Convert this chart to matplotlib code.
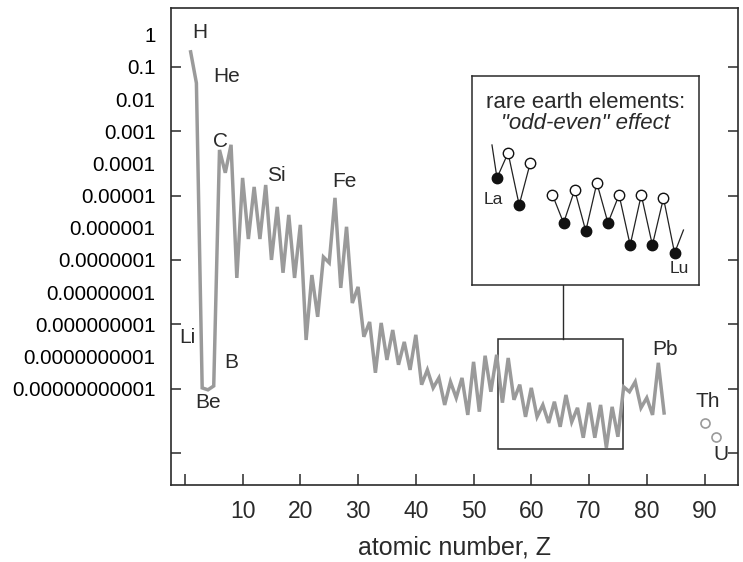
import numpy as np
import matplotlib
matplotlib.use("Agg")
import matplotlib.pyplot as plt
from matplotlib.patches import Rectangle

plt.rcParams['font.family'] = ['Liberation Sans', 'DejaVu Sans']

# log10 relative abundance, Z = 1 .. 83
Z = np.arange(1, 84)
log_abund = [
    -0.53, -1.50, -10.98, -11.04, -10.92, -3.58, -4.29, -3.42, -7.56, -4.45,
    -6.35, -4.73, -6.35, -4.67, -7.00, -5.35, -7.40, -5.60, -7.56, -5.91,
    -9.49, -7.47, -8.77, -6.91, -7.09, -5.07, -7.87, -5.97, -8.34, -7.84,
    -9.39, -8.93, -10.51, -8.96, -10.11, -9.18, -10.26, -9.55, -10.42, -9.33,
    -10.88, -10.42, -10.98, -10.67, -11.51, -10.79, -11.29, -10.67, -11.82, -10.17,
    -11.72, -9.98, -11.10, -9.95, -11.44, -10.05, -11.35, -10.88, -11.88, -10.98,
    -11.88, -11.51, -12.07, -11.41, -12.19, -11.20, -12.04, -11.60, -12.53, -11.44,
    -12.53, -11.51, -12.84, -11.57, -12.50, -10.95, -11.10, -10.79, -11.60, -11.29,
    -11.82, -10.20, -11.76,
]
actinide_Z = [90, 92]
actinide_log = [-12.07, -12.50]

# element labels: (text, Z position, log10 position)
elem_labels = [
    ("H", 2.6, 0.06), ("He", 7.3, -1.31), ("C", 6.1, -3.33), ("Si", 15.9, -4.39),
    ("Fe", 27.7, -4.57), ("Li", 0.35, -9.42), ("B", 8.1, -10.20), ("Be", 4.0, -11.44),
    ("Pb", 83.2, -9.80), ("Th", 90.6, -11.41), ("U", 92.9, -13.06),
]

ytick_exp = list(range(0, -12, -1))
ytick_text = ["1"] + ["0." + "0" * (-e - 1) + "1" for e in ytick_exp[1:]]
xtick_vals = list(range(0, 100, 10))
xtick_text = [""] + [str(v) for v in xtick_vals[1:]]

# inset sketch of the rare earth odd-even zigzag (0-100 height units)
ree_x = [-0.45, 0, 1, 2, 3, 4, 5, 6, 7, 8, 9, 10, 11, 12, 13, 14, 15, 16, 16.8]
ree_y = [67, 51.2, 63.2, 38.3, 58.4, np.nan, 43.1, 29.7, 45.5, 25.8, 48.8,
         29.7, 43.1, 19.1, 43.1, 19.1, 41.6, 15.3, 26.3]
ree_filled = [None, True, False, True, False, None, False, True, False, True,
              False, True, False, True, False, True, False, True, None]

line_gray = "#9a9a9a"
ink = "#2a2a2a"

fig = plt.figure(figsize=(7.43, 5.62), dpi=100)
ax = fig.add_axes([171 / 743, 1 - 485 / 562, 567 / 743, 477 / 562])

ax.plot(Z, 10.0 ** np.array(log_abund), color=line_gray, lw=2.5,
        solid_joinstyle="miter")
ax.plot(actinide_Z, 10.0 ** np.array(actinide_log), "o", ls="none",
        mfc="white", mec=line_gray, ms=6.5, mew=1.2)

ax.set_yscale("log")
ax.set_xlim(-2.4, 95.8)
ax.set_ylim(1e-14, 10 ** 0.834)

ax.yaxis.remove_overlapping_locs = False
ax.set_yticks([10.0 ** e for e in range(-1, -14, -2)])
ax.set_yticklabels([])
ax.set_yticks([10.0 ** e for e in ytick_exp], labels=ytick_text, minor=True)
ax.tick_params(axis="y", which="major", direction="in", length=7, width=1.1,
               right=True, color=ink)
ax.tick_params(axis="y", which="minor", length=0, pad=11, labelsize=14.8,
               labelcolor="black")

ax.set_xticks(xtick_vals, labels=xtick_text)
ax.tick_params(axis="x", direction="in", length=8, width=1.1, pad=11,
               labelsize=16.5, labelcolor=ink, color=ink)
ax.set_xlabel("atomic number, Z", fontsize=18, color=ink, labelpad=9)

for sp in ax.spines.values():
    sp.set_linewidth(1.2)
    sp.set_color(ink)

for txt, zx, ly in elem_labels:
    ax.text(zx, 10.0 ** ly, txt, fontsize=15, color=ink, ha="center", va="center")

# highlighted REE window and leader line to the inset
ax.add_patch(Rectangle((54.2, 10 ** -12.87), 75.9 - 54.2, 10 ** -9.45 - 10 ** -12.87,
                       fill=False, ec=ink, lw=1.1))
ax.plot([65.5, 65.5], [10 ** -9.45, 10 ** -7.78], color=ink, lw=1.0, clip_on=False)

# inset
ins = fig.add_axes([472 / 743, 1 - 285 / 562, 227 / 743, 209 / 562])
ins.set_xlim(-2.25, 18.2)
ins.set_ylim(0, 100)
ins.set_xticks([])
ins.set_yticks([])
for sp in ins.spines.values():
    sp.set_linewidth(1.1)
    sp.set_color(ink)
ins.plot(ree_x, ree_y, color="#222222", lw=0.9)
for xx, yy, f in zip(ree_x, ree_y, ree_filled):
    if f is None:
        continue
    ins.plot(xx, yy, "o", ms=7.5, mew=1.0, mec="#111111",
             mfc="#111111" if f else "white")
ins.text(0.5, 0.875, "rare earth elements:", transform=ins.transAxes,
         ha="center", va="center", fontsize=16, color=ink)
ins.text(0.5, 0.775, "\"odd-even\" effect", transform=ins.transAxes,
         ha="center", va="center", fontsize=16, style="italic", color=ink)
ins.text(-0.3, 41, "La", ha="center", va="center", fontsize=12.5, color=ink)
ins.text(16.4, 8, "Lu", ha="center", va="center", fontsize=12.5, color=ink)

fig.savefig("out.png", dpi=100)
